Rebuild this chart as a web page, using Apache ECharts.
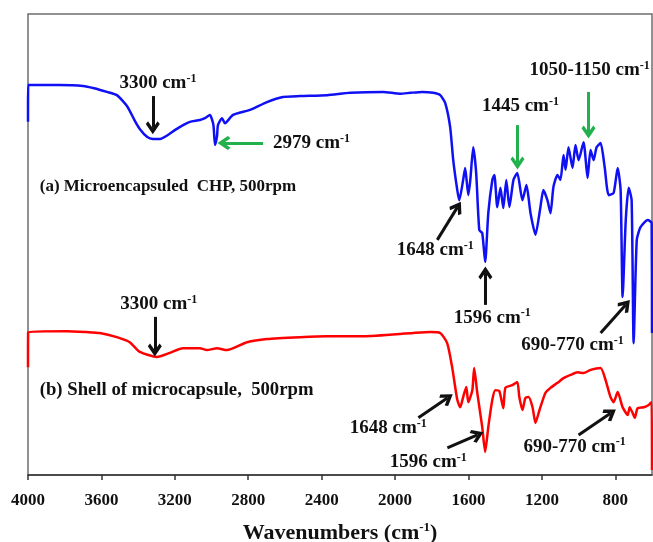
<!DOCTYPE html>
<html><head><meta charset="utf-8">
<script src="https://cdn.jsdelivr.net/npm/echarts@6/dist/echarts.min.js"></script>
<style>html,body{margin:0;padding:0;background:#fff}#c{width:653px;height:542px}</style>
</head><body><div id="c"></div>
<script>
// x-axis ticks (wavenumber, cm-1)
const xTicks = [4000,3600,3200,2800,2400,2000,1600,1200,800];

// (a) Microencapsuled CHP - wavenumbers and transmittance (a.u.)
const wnA = [4000,3999,3830,3700,3640,3570,3516,3460,3420,3390,3350,3320,3280,3240,3200,3150,3118,3063,3036,3009,2990,2981,2970,2965,2943,2927,2883,2790,2698,2611,2518,2370,2245,2065,1972,1917,1852,1792,1754,1727,1700,1683,1661,1650,1629,1618,1601,1590,1574,1558,1541,1525,1509,1492,1470,1459,1443,1426,1410,1394,1377,1355,1334,1306,1284,1262,1235,1208,1192,1170,1153,1137,1115,1099,1082,1071,1055,1033,1017,1000,973,951,935,918,902,880,858,836,809,787,771,760,743,727,711,700,683,662,623,602,600];
const tA = [76.6,84.6,84.6,84.4,83.9,83.1,82.4,80.0,77.0,75.0,73.3,72.9,72.9,73.7,74.8,76.0,76.6,77.0,77.4,78.1,76.0,71.6,73.5,75.9,77.4,76.3,78.1,79.2,80.9,82.0,82.2,82.4,82.9,83.1,82.7,82.9,83.1,82.9,82.4,80.7,75.5,68.3,61.8,59.6,64.0,66.6,60.7,64.0,71.1,65.5,53.1,52.5,46.2,56.8,64.0,65.1,58.1,62.3,57.9,64.0,58.1,64.0,65.5,59.6,62.9,56.8,52.1,58.1,61.8,59.6,56.8,62.5,65.1,64.0,69.4,66.2,71.1,66.6,71.6,68.3,72.2,64.4,70.5,68.3,71.1,72.0,66.8,60.7,61.2,66.6,61.8,38.6,55.3,62.3,59.6,28.6,51.0,53.8,55.3,54.7,30.8];

// (b) Shell of microcapsule
const wnB = [4000,3999,3789,3680,3609,3516,3446,3390,3298,3227,3156,3063,3025,2970,2916,2807,2698,2518,2370,2174,1901,1808,1754,1716,1689,1661,1645,1629,1612,1601,1579,1569,1552,1525,1509,1492,1470,1454,1432,1410,1399,1361,1334,1323,1306,1290,1273,1251,1235,1213,1181,1153,1115,1082,1044,1006,973,935,880,853,826,809,787,760,732,722,705,694,678,645,618,602,600];
const tB = [23.4,31.0,31.2,31.0,30.8,29.9,28.8,26.7,25.6,26.5,27.5,27.5,27.1,27.5,27.1,28.8,29.5,29.9,30.1,30.1,30.8,31.0,30.8,28.6,23.4,16.3,14.7,16.9,19.1,15.8,18.4,23.2,17.8,10.4,5.0,10.4,16.3,18.4,18.2,14.5,18.9,19.5,20.2,16.9,14.1,16.7,16.9,14.7,11.3,14.1,17.8,18.9,20.0,21.0,21.7,22.3,22.1,22.8,23.2,20.6,16.9,15.8,18.0,14.7,13.0,14.7,13.4,12.4,14.5,14.7,15.2,15.8,1.1];

// annotation texts: [text, superscript, wavenumber, transmittance, anchor, font size]
const notesA = [
  ['3300 cm','-1',3292,85.0,'center',19],
  ['2979 cm','-1',2665,72.0,'left',19],
  ['(a) Microencapsuled  CHP, 500rpm','',3936,62.6,'left',17],
  ['1050-1150 cm','-1',940,87.8,'center',19],
  ['1445 cm','-1',1317,80.0,'center',19],
  ['1648 cm','-1',1781,48.8,'center',19],
  ['1596 cm','-1',1470,34.1,'center',19],
  ['690-770 cm','-1',1033,28.2,'center',19]
];
const notesB = [
  ['3300 cm','-1',3287,37.1,'center',19],
  ['(b) Shell of microcapsule,  500rpm','',3936,18.4,'left',18.7],
  ['1648 cm','-1',2037,10.2,'center',19],
  ['1596 cm','-1',1819,2.8,'center',19],
  ['690-770 cm','-1',1022,6.1,'center',19]
];
// arrows: [from wn, from T, to wn, to T, kind]
const arrowsA = [
  [3320,82.2,3320,75.3,'k'],
  [2719,72.0,2932,72.0,'g'],
  [946,83.1,946,74.4,'g'],
  [1333,75.9,1333,67.7,'g'],
  [1770,51.0,1660,58.1,'k'],
  [1508,36.9,1508,43.8,'k'],
  [880,30.8,744,36.9,'k']
];
const arrowsB = [
  [3309,34.3,3309,27.1,'k'],
  [1873,12.4,1715,16.7,'k'],
  [1715,5.9,1551,8.7,'k'],
  [1000,8.7,826,13.4,'k']
];

const FONT = '"Liberation Serif","Times New Roman",serif';
const GREEN = '#22b14c';
const CHEVRON = 'path://M5,0 L10,7 L8.4,8.8 L5,4.2 L1.6,8.8 L0,7 Z';
function richFor(size) {
  return {
    t: {fontFamily: FONT, fontWeight: 'bold', fontSize: size, color: '#111', lineHeight: size + 2},
    s: {fontFamily: FONT, fontWeight: 'bold', fontSize: Math.round(size * 0.62), color: '#111', verticalAlign: 'top', lineHeight: Math.round(size * 0.62)}
  };
}
function mp(notes) {
  return {
    symbol: 'circle', symbolSize: 1, itemStyle: {color: 'rgba(0,0,0,0)'},
    silent: true, animation: false,
    data: notes.map(n => ({
      coord: [n[2], n[3]],
      label: {
        show: true, position: 'inside', align: n[4], verticalAlign: 'middle',
        formatter: n[1] ? '{t|' + n[0] + '}{s|' + n[1] + '}' : '{t|' + n[0] + '}',
        rich: richFor(n[5])
      }
    }))
  };
}
function ml(arrows, kind) {
  const col = kind === 'g' ? GREEN : '#111';
  return {
    symbol: ['none', CHEVRON], symbolSize: [14, 13], symbolKeepAspect: false,
    silent: true, animation: false,
    label: {show: false},
    lineStyle: {color: col, width: 3, type: 'solid'},
    itemStyle: {color: col},
    data: arrows.filter(a => a[4] === kind).map(a => [
      {coord: [a[0], a[1]]},
      {coord: [a[2], a[3]]}
    ])
  };
}
function lineSeries(name, wn, t, color, notes, arrows) {
  return {
    name: name, type: 'line', data: wn.map((w, i) => [w, t[i]]),
    showSymbol: false, symbol: 'none', smooth: 0.2,
    lineStyle: {color: color, width: 2.5}, z: 3,
    markPoint: mp(notes), markLine: ml(arrows, 'k')
  };
}
// helper series carrying only the green arrows (no data of its own)
function greenArrows(arrows) {
  return {type: 'line', data: [], silent: true, markLine: ml(arrows, 'g')};
}

const chart = echarts.init(document.getElementById('c'), null, {renderer: 'canvas'});
chart.setOption({
  animation: false,
  backgroundColor: '#fff',
  grid: {left: 28, right: 1, top: 14, bottom: 67, show: true, borderColor: '#6e6e6e', borderWidth: 1.5, outerBoundsMode: 'none'},
  xAxis: {
    type: 'value', min: 600, max: 4000, inverse: true,
    axisLine: {show: true, lineStyle: {color: '#333', width: 1.5}},
    axisTick: {show: true, inside: false, length: 5, customValues: xTicks, lineStyle: {color: '#333', width: 1.5}},
    axisLabel: {customValues: xTicks, margin: 17, formatter: v => String(v), fontFamily: FONT, fontWeight: 'bold', fontSize: 17, color: '#111'},
    splitLine: {show: false},
    name: '{a|Wavenumbers (cm}{b|-1}{a|)}',
    nameLocation: 'middle', nameGap: 46,
    nameTextStyle: {
      rich: {
        a: {fontFamily: FONT, fontWeight: 'bold', fontSize: 22, color: '#111', lineHeight: 24},
        b: {fontFamily: FONT, fontWeight: 'bold', fontSize: 13, color: '#111', verticalAlign: 'top', lineHeight: 13}
      }
    }
  },
  yAxis: {type: 'value', min: 0, max: 100, show: false, splitLine: {show: false}},
  series: [
    lineSeries('(a)', wnA, tA, '#1010f5', notesA, arrowsA),
    lineSeries('(b)', wnB, tB, '#ff0000', notesB, arrowsB),
    greenArrows(arrowsA)
  ]
});
</script></body></html>
